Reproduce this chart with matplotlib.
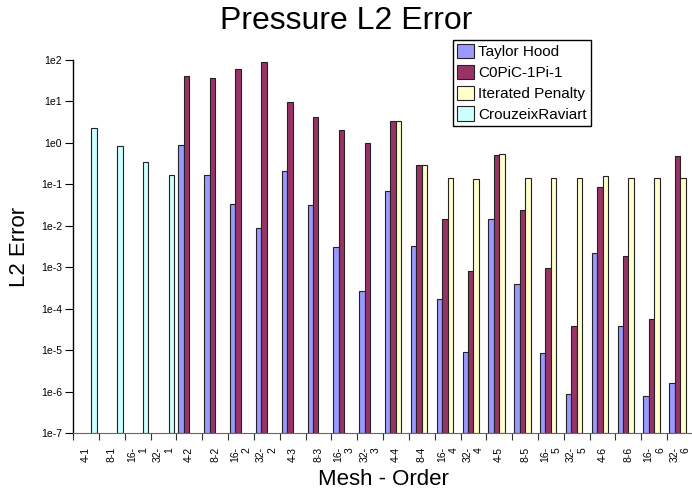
import numpy as np
import matplotlib
matplotlib.use("Agg")
import matplotlib.pyplot as plt

plt.rcParams['font.family'] = ['Liberation Sans', 'DejaVu Sans']

nan = np.nan

labels = ["4-1", "8-1", "16-\n1", "32-\n1",
          "4-2", "8-2", "16-\n2", "32-\n2",
          "4-3", "8-3", "16-\n3", "32-\n3",
          "4-4", "8-4", "16-\n4", "32-\n4",
          "4-5", "8-5", "16-\n5", "32-\n5",
          "4-6", "8-6", "16-\n6", "32-\n6"]

taylor_hood = [nan, nan, nan, nan,
               0.89, 0.168, 0.034, 0.0087,
               0.214, 0.032, 0.0031, 2.6e-4,
               0.069, 0.0033, 1.7e-4, 9.2e-6,
               0.0146, 3.9e-4, 8.7e-6, 8.5e-7,
               0.0022, 3.8e-5, 7.7e-7, 1.6e-6]
c0pic = [nan, nan, nan, nan,
         40, 37, 61, 88,
         9.7, 4.1, 2.05, 0.99,
         3.37, 0.287, 0.0146, 7.9e-4,
         0.52, 0.0236, 9.4e-4, 3.8e-5,
         0.088, 0.0019, 5.5e-5, 0.49]
iterated_penalty = [nan, nan, nan, nan,
                    nan, nan, nan, nan,
                    nan, nan, nan, nan,
                    3.37, 0.30, 0.142, 0.132,
                    0.55, 0.142, 0.142, 0.142,
                    0.156, 0.142, 0.142, 0.142]
crouzeix = [2.33, 0.84, 0.34, 0.168,
            nan, nan, nan, nan,
            nan, nan, nan, nan,
            nan, nan, nan, nan,
            nan, nan, nan, nan,
            nan, nan, nan, nan]

series = [("Taylor Hood", taylor_hood, "#9999ff"),
          ("C0PiC-1Pi-1", c0pic, "#993366"),
          ("Iterated Penalty", iterated_penalty, "#ffffcc"),
          ("CrouzeixRaviart", crouzeix, "#ccffff")]

fig = plt.figure(figsize=(6.92, 4.90), dpi=100)
ax = fig.add_axes([73/692, 1-433/490, 620/692, (433-60)/490])

base = 1e-7
x = np.arange(len(labels))
w = 0.21
for j, (name, vals, col) in enumerate(series):
    v = np.array(vals, dtype=float)
    ax.bar(x + (j - 1.5) * w, v - base, bottom=base, width=w, color=col,
           edgecolor="#222222", linewidth=0.8, label=name)

ax.set_yscale("log")
ax.set_ylim(1e-7, 1e2)
ax.set_xlim(-0.5, len(labels) - 0.5)

yt = [10.0**k for k in range(-7, 3)]
ax.set_yticks(yt)
ax.set_yticklabels(["1e%d" % k for k in range(-7, 3)], fontsize=7.5)
ax.yaxis.set_minor_locator(matplotlib.ticker.NullLocator())
ax.tick_params(axis="y", length=6, width=0.8, pad=2)

ax.set_xticks(np.arange(len(labels) + 1) - 0.5)
ax.set_xticklabels([])
ax.set_xticks(x, minor=True)
ax.set_xticklabels(labels, minor=True, rotation=90, fontsize=7.5,
                   multialignment="right")
ax.tick_params(axis="x", which="major", length=5, width=0.8, color="#333333")
ax.tick_params(axis="x", which="minor", length=0, pad=10)

for s in ["top", "right"]:
    ax.spines[s].set_visible(False)
ax.spines["bottom"].set_color("#666666")
ax.spines["left"].set_linewidth(1.0)

ax.set_ylabel("L2 Error", fontsize=16, labelpad=8)
ax.set_xlabel("Mesh - Order", fontsize=16, labelpad=5)
fig.text(0.5, 1 - 21/490, "Pressure L2 Error", fontsize=23,
         ha="center", va="center")

leg = ax.legend(loc="upper left", bbox_to_anchor=(453/692, 1-40/490),
                bbox_transform=fig.transFigure, fontsize=11, frameon=True,
                fancybox=False, edgecolor="black", framealpha=1,
                handlelength=1.1, handleheight=1.1, handletextpad=0.3,
                borderpad=0.25, labelspacing=0.35, borderaxespad=0)
leg.get_frame().set_linewidth(1.0)

fig.savefig("out.png", dpi=100)
